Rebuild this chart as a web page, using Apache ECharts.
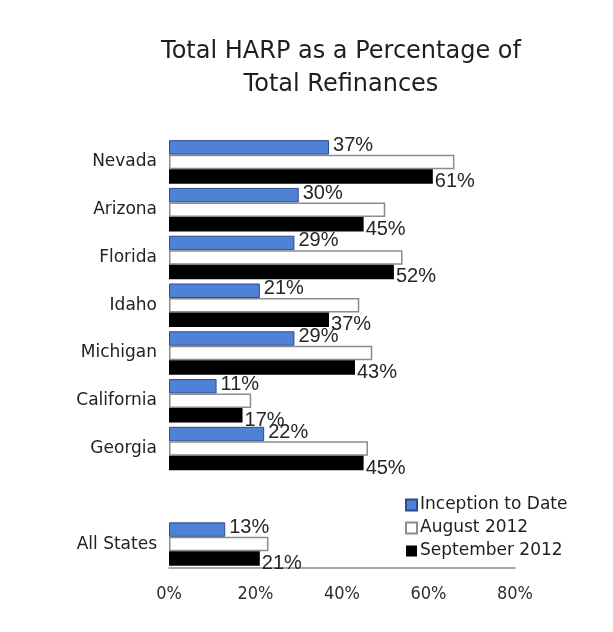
<!DOCTYPE html>
<html>
<head>
<meta charset="utf-8">
<script src="https://cdn.jsdelivr.net/npm/echarts@6/dist/echarts.min.js"></script>
<style>
  html, body { margin: 0; padding: 0; background: #fff; }
  #chart { width: 613px; height: 632px; }
</style>
</head>
<body>
<div id="chart"></div>
<script>
// States, with an empty slot separating the national total
const categories = ['Nevada', 'Arizona', 'Florida', 'Idaho', 'Michigan', 'California', 'Georgia', '', 'All States'];
const inceptionToDate = [37, 30, 29, 21, 29, 11, 22, null, 13];
const august2012 = [66, 50, 54, 44, 47, 19, 46, null, 23];
const september2012 = [61, 45, 52, 37, 43, 17, 45, null, 21];
const tickLabels = ['0%', '20%', '40%', '60%', '80%'];

const chart = echarts.init(document.getElementById('chart'));
const labelFont = { fontFamily: 'Liberation Sans, Arial, sans-serif', fontSize: 20, color: '#262626' };
const pctLabel = p => (p.value == null ? '' : p.value + '%');

chart.setOption({
  backgroundColor: '#ffffff',
  animation: false,
  title: {
    text: 'Total HARP as a Percentage of\nTotal Refinances',
    left: 336,
    top: 30,
    textAlign: 'center',
    textStyle: {
      fontFamily: 'DejaVu Sans, sans-serif',
      fontSize: 24,
      fontWeight: 'normal',
      color: '#1e1e1e',
      lineHeight: 33
    }
  },
  legend: {
    orient: 'vertical',
    left: 400,
    top: 491,
    icon: 'rect',
    itemWidth: 11,
    itemHeight: 11,
    itemGap: 5,
    textStyle: { fontFamily: 'DejaVu Sans, sans-serif', fontSize: 17, color: '#1e1e1e', lineHeight: 18, padding: [0, 0, 0, -2] },
    data: ['Inception to Date', 'August 2012', 'September 2012']
  },
  grid: { left: 169, right: 98, top: 138, bottom: 64, containLabel: false },
  xAxis: {
    type: 'value',
    min: 0,
    max: 80,
    interval: 20,
    axisLine: { show: true, lineStyle: { color: '#8a8a8a', width: 1.5 } },
    axisTick: { show: false },
    splitLine: { show: false },
    axisLabel: {
      margin: 17,
      fontFamily: 'DejaVu Sans Condensed, DejaVu Sans, sans-serif',
      fontSize: 18,
      color: '#2e2e2e',
      formatter: v => tickLabels[v / 20]
    }
  },
  yAxis: {
    type: 'category',
    inverse: true,
    data: categories,
    axisLine: { show: false },
    axisTick: { show: false },
    axisLabel: {
      margin: 12,
      fontFamily: 'DejaVu Sans, sans-serif',
      fontSize: 17,
      color: '#222'
    }
  },
  series: [
    {
      name: 'Inception to Date',
      type: 'bar',
      data: inceptionToDate,
      barGap: '0%',
      barCategoryGap: '9%',
      itemStyle: { color: '#4f81d4', borderColor: '#2c4c8c', borderWidth: 1 },
      label: { show: true, position: 'right', distance: 4, offset: [0, -2], formatter: pctLabel, ...labelFont }
    },
    {
      name: 'August 2012',
      type: 'bar',
      data: august2012,
      barGap: '0%',
      barCategoryGap: '9%',
      itemStyle: { color: '#ffffff', borderColor: '#8c8c8c', borderWidth: 1.5 }
    },
    {
      name: 'September 2012',
      type: 'bar',
      data: september2012,
      barGap: '0%',
      barCategoryGap: '9%',
      itemStyle: { color: '#000000' },
      label: { show: true, position: 'right', distance: 2, offset: [0, 5], formatter: pctLabel, ...labelFont }
    }
  ]
});
</script>
</body>
</html>
